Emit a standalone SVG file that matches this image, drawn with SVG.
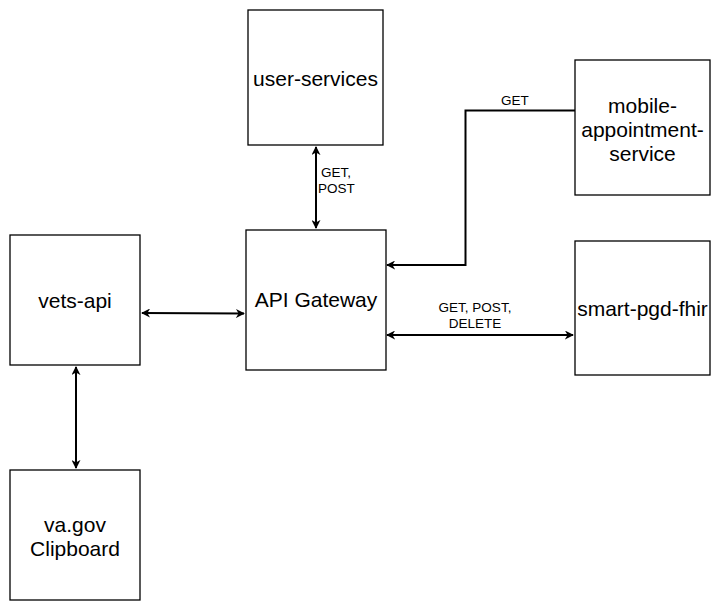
<svg xmlns="http://www.w3.org/2000/svg" width="721" height="611" viewBox="0 0 721 611">
<style>
.box{fill:#fff;stroke:#000;stroke-width:1.3}
.t{font-family:"Liberation Sans",Arial,sans-serif;font-size:21px;fill:#000;text-anchor:middle;dominant-baseline:central}
.l{font-family:"Liberation Sans",Arial,sans-serif;font-size:13.5px;fill:#000;dominant-baseline:central}
.c{fill:none;stroke:#000;stroke-width:2}
</style>
<defs>
<marker id="ah" viewBox="0 0 10 10" refX="9" refY="5" markerWidth="9" markerHeight="9" orient="auto-start-reverse" markerUnits="userSpaceOnUse">
<path d="M0,0 L10,5 L0,10 L3,5 Z" fill="#000"/>
</marker>
</defs>
<rect width="721" height="611" fill="#fff"/>
<g id="connectors">
<line class="c" x1="316" y1="147" x2="316" y2="228" marker-start="url(#ah)" marker-end="url(#ah)"/>
<polyline class="c" points="575,110.5 465.5,110.5 465.5,265 387,265" marker-end="url(#ah)"/>
<line class="c" x1="142" y1="313" x2="244" y2="313.5" marker-start="url(#ah)" marker-end="url(#ah)"/>
<line class="c" x1="76" y1="367" x2="76" y2="468" marker-start="url(#ah)" marker-end="url(#ah)"/>
<line class="c" x1="387" y1="335" x2="573" y2="335" marker-start="url(#ah)" marker-end="url(#ah)"/>
<text class="l" x="321" y="172">GET,</text>
<text class="l" x="318" y="188">POST</text>
<text class="l" x="515" y="100" text-anchor="middle">GET</text>
<text class="l" x="475" y="307" text-anchor="middle">GET, POST,</text>
<text class="l" x="475" y="323" text-anchor="middle">DELETE</text>
</g>
<g id="user-services">
<rect class="box" x="248" y="10" width="135" height="135"/>
<text class="t" x="315.5" y="78">user-services</text>
</g>
<g id="mobile-appointment-service">
<rect class="box" x="575" y="60" width="135" height="135"/>
<text class="t" x="642.5" y="105">mobile-</text>
<text class="t" x="642.5" y="129">appointment-</text>
<text class="t" x="642.5" y="153">service</text>
</g>
<g id="api-gateway">
<rect class="box" x="246" y="230" width="140" height="140"/>
<text class="t" x="316" y="299">API Gateway</text>
</g>
<g id="vets-api">
<rect class="box" x="10" y="235" width="130" height="130"/>
<text class="t" x="75" y="300">vets-api</text>
</g>
<g id="smart-pgd-fhir">
<rect class="box" x="575" y="241" width="135" height="134"/>
<text class="t" x="642.5" y="308">smart-pgd-fhir</text>
</g>
<g id="va-gov-clipboard">
<rect class="box" x="10" y="470" width="130" height="130"/>
<text class="t" x="75" y="524">va.gov</text>
<text class="t" x="75" y="548">Clipboard</text>
</g>
</svg>
